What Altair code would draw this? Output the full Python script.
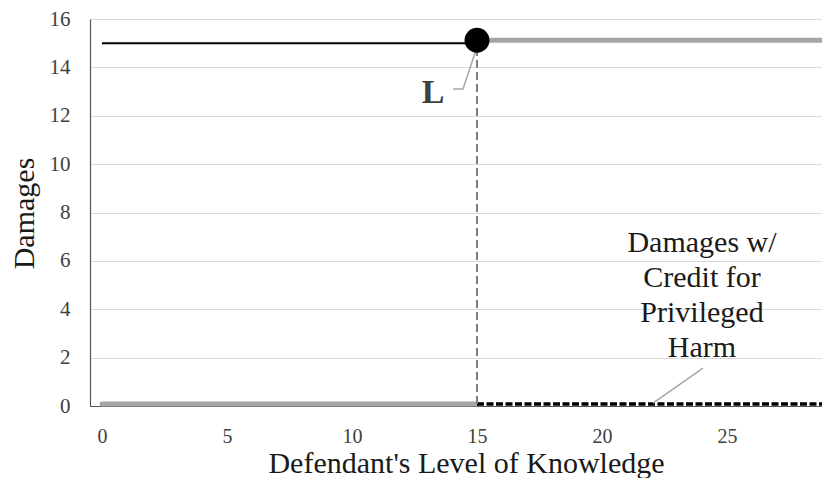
import altair as alt
import pandas as pd

# ---- data ----
x_ticks = [0, 5, 10, 15, 20, 25]
y_ticks = [0, 2, 4, 6, 8, 10, 12, 14, 16]

harm_x = [0, 15]            # black solid line (harm level)
harm_y = [15.0, 15.0]
liab_x = [15, 30]           # grey thick line, damages once liable
liab_y = [15.12, 15.12]
pre_x = [0, 15]             # grey thick line, no damages below L
pre_y = [0.08, 0.08]
credit_x = [15, 30]         # black dashed, damages w/ credit
credit_y = [0.08, 0.08]
threshold_x = [15]          # L
threshold_y = [15.12]

L_leader_x = [14.04, 14.44, 15.08]
L_leader_y = [13.11, 13.11, 15.09]
note_leader_x = [24.04, 22.04]
note_leader_y = [1.57, 0.12]
note_lines = ["Damages w/", "Credit for", "Privileged", "Harm"]

FONT = "Liberation Serif"
GREY = "#a6a6a6"

x_scale = alt.Scale(domain=[-0.48, 28.8], nice=False, zero=False)
y_scale = alt.Scale(domain=[0, 16], nice=False)

x_axis = alt.Axis(values=x_ticks, grid=False, title="Defendant's Level of Knowledge",
                  titleY=66, titleX=376)
y_axis = alt.Axis(values=y_ticks, grid=True, title="Damages",
                  titleX=-57, titleY=194, titleAngle=270)


def X():
    return alt.X("x:Q", scale=x_scale, axis=x_axis)


def Y():
    return alt.Y("y:Q", scale=y_scale, axis=y_axis)


def df(xs, ys):
    return pd.DataFrame({"x": xs, "y": ys, "o": list(range(len(xs)))})


pre = alt.Chart(df(pre_x, pre_y)).mark_line(
    stroke=GREY, strokeWidth=5, strokeCap="round"
).encode(x=X(), y=Y(), order="o:Q")

harm = alt.Chart(df(harm_x, harm_y)).mark_line(
    stroke="black", strokeWidth=2
).encode(x=X(), y=Y(), order="o:Q")

liab = alt.Chart(df(liab_x, liab_y)).mark_line(
    stroke=GREY, strokeWidth=5, clip=True
).encode(x=X(), y=Y(), order="o:Q")

credit = alt.Chart(df(credit_x, credit_y)).mark_line(
    stroke="black", strokeWidth=3.5, strokeDash=[7, 2.5], clip=True
).encode(x=X(), y=Y(), order="o:Q")

vline = alt.Chart(pd.DataFrame({"x": threshold_x, "y": [0.08], "y2": threshold_y})).mark_rule(
    stroke="#7f7f7f", strokeWidth=2, strokeDash=[8, 4]
).encode(x=X(), y=Y(), y2="y2:Q")

dot = alt.Chart(pd.DataFrame({"x": threshold_x, "y": threshold_y})).mark_point(
    filled=True, color="black", size=620, opacity=1, shape="circle"
).encode(x=X(), y=Y())

L_leader = alt.Chart(df(L_leader_x, L_leader_y)).mark_line(
    stroke=GREY, strokeWidth=1.5
).encode(x=X(), y=Y(), order="o:Q")

L_text = alt.Chart(pd.DataFrame({"x": [13.24], "y": [12.54]})).mark_text(
    text="L", font=FONT, fontSize=34, fontWeight="bold", color="#404040",
    align="center", baseline="alphabetic"
).encode(x=X(), y=Y())

note_leader = alt.Chart(df(note_leader_x, note_leader_y)).mark_line(
    stroke=GREY, strokeWidth=1.5
).encode(x=X(), y=Y(), order="o:Q")

note_text = alt.Chart(pd.DataFrame({"x": [24.0], "y": [6.36]})).mark_text(
    text=note_lines, font=FONT, fontSize=30, lineHeight=35, color="#1a1a1a",
    align="center", baseline="alphabetic"
).encode(x=X(), y=Y())

chart = alt.layer(
    pre, harm, liab, credit, vline, L_leader, note_leader, dot, L_text, note_text
).properties(
    width=732, height=387,
    autosize=alt.AutoSizeParams(type="none"),
    padding={"left": 82, "top": 11, "right": 0, "bottom": 72},
    background="white",
).configure_view(
    stroke=None
).configure_axis(
    labelFont=FONT, titleFont=FONT, labelColor="#404040", titleColor="#1a1a1a",
    titleFontWeight="normal", titleFontSize=30, titleBaseline="alphabetic",
    ticks=False, tickSize=0, domainColor="#595959", gridColor="#d9d9d9", gridWidth=1,
).configure_axisX(
    labelFontSize=20, labelPadding=20, domainWidth=1,
).configure_axisY(
    labelFontSize=21, labelPadding=20, domainWidth=1.2,
)

chart.save("out.html", embed_options={"renderer": "svg", "actions": False})
